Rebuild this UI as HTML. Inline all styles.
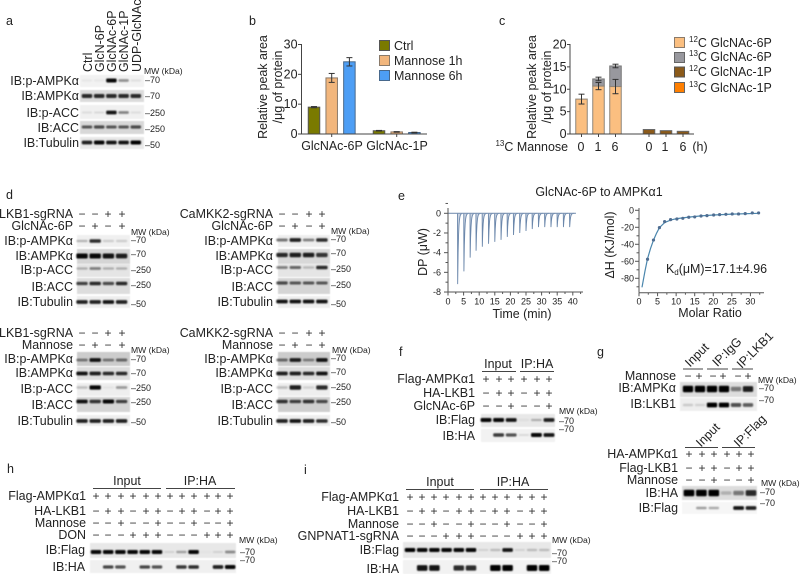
<!DOCTYPE html>
<html lang="en">
<head>
<meta charset="utf-8">
<title>GlcNAc-6P AMPK figure</title>
<style>
html,body{margin:0;padding:0;background:#fff;}
svg{display:block;}
text{font-family:"Liberation Sans",Arial,sans-serif;font-size:12.45px;fill:#222;dominant-baseline:central;}
.r{text-anchor:end;}
.m{text-anchor:middle;}
.p{font-size:12.5px;}
.mw{font-size:8.6px;}
.k{font-size:9px;}
.t{font-size:9px;}
.s{text-anchor:middle;font-size:12px;fill:#333;}
.sup{font-size:8px;}
</style>
</head>
<body>
<svg id="fig" xmlns="http://www.w3.org/2000/svg" width="800" height="574" viewBox="0 0 800 574">
<defs>
<filter id="bl" x="-30%" y="-80%" width="160%" height="260%"><feGaussianBlur stdDeviation="0.85"/></filter>
<filter id="bg" x="-5%" y="-15%" width="110%" height="130%"><feGaussianBlur stdDeviation="0.6"/></filter>
</defs>
<g id="blots"></g>

<!-- panel a -->
<text class="p" x="6" y="21">a</text>
<text transform="translate(88,72) rotate(-90)">Ctrl</text>
<text transform="translate(100,72) rotate(-90)">GlcN-6P</text>
<text transform="translate(112,72) rotate(-90)">GlcNAc-6P</text>
<text transform="translate(124,72) rotate(-90)">GlcNAc-1P</text>
<text transform="translate(137,72) rotate(-90)">UDP-GlcNAc</text>
<text class="r" x="79" y="81">IB:p-AMPKα</text>
<text class="r" x="79" y="96">IB:AMPKα</text>
<text class="r" x="79" y="113">IB:p-ACC</text>
<text class="r" x="79" y="128">IB:ACC</text>
<text class="r" x="79" y="143">IB:Tubulin</text>
<text class="mw" x="144" y="71">MW (kDa)</text>
<text class="k" x="145" y="80">–70</text>
<text class="k" x="145" y="96">–70</text>
<text class="k" x="145" y="113">–250</text>
<text class="k" x="145" y="129">–250</text>
<text class="k" x="145" y="145">–50</text>

<!-- panel b -->
<text class="p" x="249" y="21">b</text>
<text class="m" transform="translate(263,87) rotate(-90)">Relative peak area</text>
<text class="m" transform="translate(278,87) rotate(-90)">/μg of protein</text>
<text class="m" x="332" y="146">GlcNAc-6P</text>
<text class="m" x="397" y="146">GlcNAc-1P</text>
<rect x="379.5" y="40.5" width="10" height="10" fill="#7a7a00" stroke="#555"/>
<rect x="379.5" y="55.5" width="10" height="10" fill="#f2b67c" stroke="#8a7a6a"/>
<rect x="379.5" y="70.5" width="10" height="10" fill="#4d9ef5" stroke="#47688c"/>
<text x="394" y="46">Ctrl</text>
<text x="394" y="61">Mannose 1h</text>
<text x="394" y="76">Mannose 6h</text>

<!-- panel c -->
<text class="p" x="499" y="21">c</text>
<text class="m" transform="translate(532,87) rotate(-90)">Relative peak area</text>
<text class="m" transform="translate(547,87) rotate(-90)">/μg of protein</text>
<text class="r" x="568" y="147"><tspan class="sup" dy="-4">13</tspan><tspan dy="4">C Mannose</tspan></text>
<text class="m" x="581" y="147">0</text>
<text class="m" x="598" y="147">1</text>
<text class="m" x="615" y="147">6</text>
<text class="m" x="649" y="147">0</text>
<text class="m" x="665" y="147">1</text>
<text class="m" x="683" y="147">6</text>
<text class="m" x="700" y="147">(h)</text>
<rect x="674.5" y="37.5" width="10" height="10" fill="#fbbf80" stroke="#8a7a6a"/>
<rect x="674.5" y="52.5" width="10" height="10" fill="#98989e" stroke="#666"/>
<rect x="674.5" y="67" width="10" height="10" fill="#8b5a1a" stroke="#555"/>
<rect x="674.5" y="82.5" width="10" height="10" fill="#ff7f00" stroke="#666"/>
<text x="689" y="43"><tspan class="sup" dy="-4">12</tspan><tspan dy="4">C GlcNAc-6P</tspan></text>
<text x="689" y="57"><tspan class="sup" dy="-4">13</tspan><tspan dy="4">C GlcNAc-6P</tspan></text>
<text x="689" y="72"><tspan class="sup" dy="-4">12</tspan><tspan dy="4">C GlcNAc-1P</tspan></text>
<text x="689" y="88"><tspan class="sup" dy="-4">13</tspan><tspan dy="4">C GlcNAc-1P</tspan></text>

<!-- panel d -->
<text class="p" x="6" y="195">d</text>
<g>
<text class="r" x="73" y="214">LKB1-sgRNA</text>
<text class="r" x="73" y="226">GlcNAc-6P</text>
<text class="s" x="82 95 108 122" y="214">−−++</text>
<text class="s" x="82 95 108 122" y="226">−+−+</text>
<text class="r" x="73" y="241">IB:p-AMPKα</text>
<text class="r" x="73" y="256">IB:AMPKα</text>
<text class="r" x="73" y="270">IB:p-ACC</text>
<text class="r" x="73" y="287">IB:ACC</text>
<text class="r" x="73" y="302">IB:Tubulin</text>
<text class="mw" x="131" y="232">MW (kDa)</text>
<text class="k" x="131" y="240">–70</text>
<text class="k" x="131" y="254">–70</text>
<text class="k" x="131" y="270">–250</text>
<text class="k" x="131" y="285">–250</text>
<text class="k" x="131" y="304">–50</text>
</g>
<g>
<text class="r" x="273" y="214">CaMKK2-sgRNA</text>
<text class="r" x="273" y="226">GlcNAc-6P</text>
<text class="s" x="282 295 309 322" y="214">−−++</text>
<text class="s" x="282 295 309 322" y="226">−+−+</text>
<text class="r" x="273" y="241">IB:p-AMPKα</text>
<text class="r" x="273" y="256">IB:AMPKα</text>
<text class="r" x="273" y="270">IB:p-ACC</text>
<text class="r" x="273" y="287">IB:ACC</text>
<text class="r" x="273" y="302">IB:Tubulin</text>
<text class="mw" x="331" y="231">MW (kDa)</text>
<text class="k" x="331" y="239">–70</text>
<text class="k" x="331" y="253">–70</text>
<text class="k" x="331" y="269">–250</text>
<text class="k" x="331" y="285">–250</text>
<text class="k" x="331" y="304">–50</text>
</g>
<g>
<text class="r" x="73" y="333">LKB1-sgRNA</text>
<text class="r" x="73" y="345">Mannose</text>
<text class="s" x="82 95 108 122" y="333">−−++</text>
<text class="s" x="82 95 108 122" y="345">−+−+</text>
<text class="r" x="73" y="359">IB:p-AMPKα</text>
<text class="r" x="73" y="373">IB:AMPKα</text>
<text class="r" x="73" y="389">IB:p-ACC</text>
<text class="r" x="73" y="405">IB:ACC</text>
<text class="r" x="73" y="421">IB:Tubulin</text>
<text class="mw" x="131" y="350">MW (kDa)</text>
<text class="k" x="131" y="359">–70</text>
<text class="k" x="131" y="373">–70</text>
<text class="k" x="131" y="388">–250</text>
<text class="k" x="131" y="402">–250</text>
<text class="k" x="131" y="422">–50</text>
</g>
<g>
<text class="r" x="273" y="333">CaMKK2-sgRNA</text>
<text class="r" x="273" y="345">Mannose</text>
<text class="s" x="282 295 309 322" y="333">−−++</text>
<text class="s" x="282 295 309 322" y="345">−+−+</text>
<text class="r" x="273" y="359">IB:p-AMPKα</text>
<text class="r" x="273" y="373">IB:AMPKα</text>
<text class="r" x="273" y="389">IB:p-ACC</text>
<text class="r" x="273" y="405">IB:ACC</text>
<text class="r" x="273" y="421">IB:Tubulin</text>
<text class="mw" x="332" y="350">MW (kDa)</text>
<text class="k" x="331" y="358">–70</text>
<text class="k" x="331" y="372">–70</text>
<text class="k" x="331" y="387">–250</text>
<text class="k" x="331" y="402">–250</text>
<text class="k" x="331" y="422">–50</text>
</g>

<!-- panel e -->
<text class="p" x="398" y="196">e</text>
<text class="m" x="599" y="192">GlcNAc-6P to AMPKα1</text>
<text class="m" transform="translate(423,252) rotate(-90)">DP (μW)</text>
<text class="m" x="522" y="314">Time (min)</text>
<text class="m" transform="translate(610,245) rotate(-90)">ΔH (KJ/mol)</text>
<text class="m" x="710" y="313">Molar Ratio</text>
<text x="666" y="269">K<tspan class="sup" dy="3">d</tspan><tspan dy="-3">(μM)=17.1±4.96</tspan></text>

<!-- panel f -->
<text class="p" x="399" y="352">f</text>
<text class="m" x="498" y="364">Input</text>
<text class="m" x="537" y="364">IP:HA</text>
<line x1="482" x2="516" y1="371.5" y2="371.5" stroke="#444"/>
<line x1="520" x2="554" y1="371.5" y2="371.5" stroke="#444"/>
<text class="r" x="475" y="379">Flag-AMPKα1</text>
<text class="r" x="475" y="393">HA-LKB1</text>
<text class="r" x="475" y="406">GlcNAc-6P</text>
<text class="s" x="486 499 511 524 537 549" y="379">++++++</text>
<text class="s" x="486 499 511 524 537 549" y="393">−++−++</text>
<text class="s" x="486 499 511 524 537 549" y="406">−−+−−+</text>
<text class="r" x="475" y="420">IB:Flag</text>
<text class="r" x="475" y="436">IB:HA</text>
<text class="mw" x="559" y="411">MW (kDa)</text>
<text class="k" x="559" y="421">–70</text>
<text class="k" x="559" y="429">–70</text>

<!-- panel g -->
<text class="p" x="597" y="352">g</text>
<text class="m" transform="translate(697,355) rotate(-45)">Input</text>
<text class="m" transform="translate(727,352) rotate(-45)">IP:IgG</text>
<text class="m" transform="translate(755,350) rotate(-45)">IP:LKB1</text>
<line x1="683" x2="703" y1="369" y2="369" stroke="#444"/>
<line x1="707" x2="728" y1="369" y2="369" stroke="#444"/>
<line x1="732" x2="753" y1="369" y2="369" stroke="#444"/>
<text class="r" x="676" y="376">Mannose</text>
<text class="s" x="688 699 713 723 738 748" y="376">−+−+−+</text>
<text class="r" x="676" y="388">IB:AMPKα</text>
<text class="r" x="676" y="404">IB:LKB1</text>
<text class="mw" x="758" y="380">MW (kDa)</text>
<text class="k" x="759" y="388">–70</text>
<text class="k" x="759" y="400">–70</text>

<text class="m" transform="translate(708,435) rotate(-45)">Input</text>
<text class="m" transform="translate(750,431) rotate(-45)">IP:Flag</text>
<line x1="685" x2="718" y1="447.5" y2="447.5" stroke="#444"/>
<line x1="722" x2="755" y1="447.5" y2="447.5" stroke="#444"/>
<text class="r" x="678" y="454">HA-AMPKα1</text>
<text class="r" x="678" y="468">Flag-LKB1</text>
<text class="r" x="678" y="480">Mannose</text>
<text class="s" x="689 702 714 727 739 751" y="454">++++++</text>
<text class="s" x="689 702 714 727 739 751" y="468">−++−++</text>
<text class="s" x="689 702 714 727 739 751" y="480">−−+−−+</text>
<text class="r" x="678" y="493">IB:HA</text>
<text class="r" x="678" y="508">IB:Flag</text>
<text class="mw" x="761" y="483">MW (kDa)</text>
<text class="k" x="760" y="492">–70</text>
<text class="k" x="760" y="503">–70</text>

<!-- panel h -->
<text class="p" x="7" y="469">h</text>
<text class="m" x="127" y="481">Input</text>
<text class="m" x="200" y="481">IP:HA</text>
<line x1="93" x2="161" y1="488.5" y2="488.5" stroke="#444"/>
<line x1="166" x2="235" y1="488.5" y2="488.5" stroke="#444"/>
<text class="r" x="86" y="496">Flag-AMPKα1</text>
<text class="r" x="86" y="511">HA-LKB1</text>
<text class="r" x="86" y="523">Mannose</text>
<text class="r" x="86" y="535">DON</text>
<text class="s" x="96 108 121 133 146 158 170 182 194 207 218 230" y="496">++++++++++++</text>
<text class="s" x="96 108 121 133 146 158 170 182 194 207 218 230" y="511">−++−++−++−++</text>
<text class="s" x="96 108 121 133 146 158 170 182 194 207 218 230" y="523">−−+−−+−−+−−+</text>
<text class="s" x="96 108 121 133 146 158 170 182 194 207 218 230" y="535">−−−+++−−−+++</text>
<text class="r" x="85" y="550">IB:Flag</text>
<text class="r" x="85" y="567">IB:HA</text>
<text class="mw" x="239" y="540">MW (kDa)</text>
<text class="k" x="240" y="552">–70</text>
<text class="k" x="240" y="560">–70</text>

<!-- panel i -->
<text class="p" x="304" y="470">i</text>
<text class="m" x="440" y="482">Input</text>
<text class="m" x="513" y="482">IP:HA</text>
<line x1="406" x2="474" y1="489.5" y2="489.5" stroke="#444"/>
<line x1="480" x2="548" y1="489.5" y2="489.5" stroke="#444"/>
<text class="r" x="399" y="497">Flag-AMPKα1</text>
<text class="r" x="399" y="511">HA-LKB1</text>
<text class="r" x="399" y="524">Mannose</text>
<text class="r" x="399" y="536">GNPNAT1-sgRNA</text>
<text class="s" x="410 422 434 446 459 471 483 495 507 520 532 544" y="497">++++++++++++</text>
<text class="s" x="410 422 434 446 459 471 483 495 507 520 532 544" y="511">−++−++−++−++</text>
<text class="s" x="410 422 434 446 459 471 483 495 507 520 532 544" y="524">−−+−−+−−+−−+</text>
<text class="s" x="410 422 434 446 459 471 483 495 507 520 532 544" y="536">−−−+++−−−+++</text>
<text class="r" x="399" y="550">IB:Flag</text>
<text class="r" x="399" y="569">IB:HA</text>
<text class="mw" x="552" y="540">MW (kDa)</text>
<text class="k" x="552" y="553">–70</text>
<text class="k" x="552" y="561">–70</text>

<g id="charts"></g>
</svg>

<script>
// ---- chart b values ----
const bCategories = ['GlcNAc-6P', 'GlcNAc-1P'];
const bCtrl = [9.0, 1.1];
const bCtrlErr = [0.2, 0.1];
const bMannose1h = [18.8, 0.7];
const bMannose1hErr = [1.5, 0.1];
const bMannose6h = [24.2, 0.5];
const bMannose6hErr = [1.4, 0.1];
const bTicks = [0, 10, 20, 30];

// ---- chart c values ----
const c12C6P = [7.8, 10.7, 10.6];
const c12C6PErr = [1.1, 0.8, 1.6];
const c13C6P = [0, 1.6, 4.6];
const c13C6PErr = [0, 0.4, 0.4];
const c12C1P = [1.0, 0.75, 0.6];
const cTicks = [0, 5, 10, 15, 20];

// ---- chart e values ----
const dpInjectionTimes = [3.1, 5.1, 7.1, 9, 11, 13, 15, 17, 19, 21, 23, 25, 27, 29, 31, 33, 35, 37, 39];
const dpPeakDepths = [-7.2, -5.9, -4.5, -3.8, -3.4, -3.1, -2.9, -2.7, -2.4, -2.2, -2.0, -1.8, -1.6, -1.4, -1.4, -1.4, -1.4, -1.4, -1.4];
const dpYTicks = [0, -2, -4, -6, -8];
const dpXTicks = [0, 5, 10, 15, 20, 25, 30, 35, 40];
const dhRatio = [2.3, 3.9, 5.5, 6.9, 8.5, 10.2, 11.8, 13.4, 15, 16.7, 18.3, 20.1, 21.7, 23.4, 25.1, 26.8, 28.6, 30.5, 32.2];
const dhValue = [-57.6, -35, -20.4, -13.3, -11, -10.2, -9.4, -8.2, -7.8, -6.7, -6.3, -5.5, -5.1, -4.7, -4.3, -4.3, -3.9, -3.1, -3.1];
const fitRatio = [0.8, 1.6, 2.3, 3.1, 3.9, 4.7, 5.5, 6.9, 8.5, 10.2, 13.4, 16.7, 20.1, 25.1, 32.2];
const fitValue = [-90.6, -72, -57, -45, -35, -27, -20.5, -14.5, -11.5, -9.8, -8, -6.6, -5.5, -4.5, -3.5];
const dhYTicks = [0, -20, -40, -60, -80];
const dhXTicks = [0, 5, 10, 15, 20, 25, 30];

// ---- blot band intensities (0..1 per lane) ----
const aPAmpk = [0.05, 0.05, 0.95, 0.4, 0.08];
const aAmpk = [0.8, 0.8, 0.8, 0.8, 0.8];
const aPAcc = [0.08, 0.1, 0.9, 0.45, 0.08];
const aAcc = [0.6, 0.65, 0.6, 0.6, 0.65];
const aTub = [0.85, 0.95, 0.9, 0.9, 1];
const d1PAmpk = [0.25, 0.8, 0.15, 0.15];
const d1Ampk = [0.95, 0.95, 0.9, 0.85];
const d1PAcc = [0.25, 0.45, 0.25, 0.25];
const d1Acc = [0.7, 0.8, 0.65, 0.8];
const d1Tub = [0.85, 0.85, 0.9, 0.85];
const d2PAmpk = [0.5, 0.85, 0.45, 0.8];
const d2Ampk = [0.8, 0.85, 0.85, 0.75];
const d2PAcc = [0.45, 0.55, 0.2, 0.8];
const d2Acc = [0.65, 0.6, 0.6, 0.6];
const d2Tub = [0.9, 0.9, 0.9, 0.9];
const d3PAmpk = [0.45, 0.9, 0.45, 0.5];
const d3Ampk = [0.9, 0.85, 0.8, 0.8];
const d3PAcc = [0.2, 0.95, 0.05, 0.35];
const d3Acc = [0.9, 0.75, 0.95, 0.7];
const d3Tub = [0.85, 0.85, 0.85, 0.85];
const d4PAmpk = [0.5, 0.85, 0.4, 0.9];
const d4Ampk = [0.85, 0.85, 0.8, 0.9];
const d4PAcc = [0.2, 0.85, 0.12, 0.8];
const d4Acc = [0.75, 0.7, 0.75, 0.65];
const d4Tub = [0.85, 0.9, 0.85, 0.8];
const fFlag = [0.95, 0.95, 0.9, 0.05, 0.25, 0.85];
const fHa = [0, 0.75, 0.65, 0.1, 0.95, 0.9];
const gAmpk = [1, 1, 1, 1, 0.45, 0.85];
const gLkb1 = [0.15, 0.12, 1, 1, 0.65, 0.6];
const g2Ha = [1, 1, 1, 0.2, 0.45, 0.8];
const g2Flag = [0, 0.35, 0.3, 0, 0.9, 0.85];
const hFlag = [0.95, 0.95, 0.95, 0.95, 0.95, 0.95, 0.1, 0.3, 0.95, 0.03, 0.1, 0.4];
const hHa = [0, 0.7, 0.65, 0, 0.7, 0.65, 0, 0.75, 0.8, 0, 0.85, 0.95];
const iFlag = [1, 0.95, 0.95, 0.95, 0.95, 0.95, 0.1, 0.2, 0.9, 0.1, 0.2, 0.2];
const iHa = [0, 0.9, 0.9, 0, 0.8, 0.8, 0, 1, 1, 0, 1, 1];

const NS = 'http://www.w3.org/2000/svg';
const blotLayer = document.getElementById('blots');
const chartLayer = document.getElementById('charts');

function mk(tag, attrs, parent, name) {
  const el = document.createElementNS(NS, tag);
  for (const k in attrs) el.setAttribute(k, attrs[k]);
  
  
  parent.appendChild(el);
  return el;
}

function blot(name, x, y, w, h, bg, bandY, x0, step, values, thick) {
  const g = mk('g', {}, blotLayer, name);
  mk('rect', {x: x, y: y, width: w, height: h, fill: bg, filter: 'url(#bg)'}, g, name + '-background');
  const bands = mk('g', {filter: 'url(#bl)'}, g, name + '-bands');
  values.forEach(function (v, i) {
    if (v <= 0) return;
    const bw = step * 0.86;
    const bh = (1.8 + 2.2 * v) * (thick || 1);
    mk('rect', {x: x0 + i * step - bw / 2, y: bandY - bh / 2, width: bw, height: bh, rx: 1.2, fill: '#000', opacity: Math.min(1, v * 1.02)}, bands, name + '-band');
  });
}

// panel a
blot('a-blot-p-ampk', 80, 75, 64, 12, '#f2f2f2', 80.5, 87, 12.2, aPAmpk, 1);
blot('a-blot-ampk', 80, 90, 64, 12, '#dcdcdc', 96, 87, 12.2, aAmpk, 1.1);
blot('a-blot-p-acc', 80, 105, 64, 14, '#f0f0f0', 112.5, 87, 12.2, aPAcc, 1);
blot('a-blot-acc', 80, 121, 64, 13, '#d8d8d8', 127, 87, 12.2, aAcc, 1);
blot('a-blot-tubulin', 80, 137, 64, 12, '#e8e8e8', 142.5, 87, 12.2, aTub, 1);
// panel d top-left
blot('d1-blot-p-ampk', 77, 235, 53, 12, '#f0f0f0', 241, 82, 13.2, d1PAmpk, 1);
blot('d1-blot-ampk', 77, 249, 53, 15, '#d5d5d5', 256, 82, 13.2, d1Ampk, 1.3);
blot('d1-blot-p-acc', 77, 264, 53, 13, '#e5e5e5', 268.5, 82, 13.2, d1PAcc, 1);
blot('d1-blot-acc', 77, 278, 53, 16, '#dddddd', 283.5, 82, 13.2, d1Acc, 1);
blot('d1-blot-tubulin', 77, 296, 53, 12, '#eeeeee', 302, 82, 13.2, d1Tub, 1);
// panel d top-right
blot('d2-blot-p-ampk', 278, 235, 52, 12, '#eeeeee', 240, 282, 13.3, d2PAmpk, 1);
blot('d2-blot-ampk', 278, 249, 52, 15, '#d8d8d8', 255, 282, 13.3, d2Ampk, 1.2);
blot('d2-blot-p-acc', 278, 264, 52, 13, '#e5e5e5', 267.5, 282, 13.3, d2PAcc, 1);
blot('d2-blot-acc', 278, 278, 52, 16, '#d5d5d5', 283, 282, 13.3, d2Acc, 1);
blot('d2-blot-tubulin', 278, 296, 52, 12, '#eeeeee', 301.5, 282, 13.3, d2Tub, 1);
// panel d bottom-left
blot('d3-blot-p-ampk', 77, 352, 53, 14, '#cccccc', 360, 82, 13.2, d3PAmpk, 1);
blot('d3-blot-ampk', 77, 367, 53, 13, '#dddddd', 373.5, 82, 13.2, d3Ampk, 1);
blot('d3-blot-p-acc', 77, 383, 53, 13, '#eeeeee', 387.5, 82, 13.2, d3PAcc, 1.1);
blot('d3-blot-acc', 77, 397, 53, 15, '#d5d5d5', 401.5, 82, 13.2, d3Acc, 1);
blot('d3-blot-tubulin', 77, 415, 53, 11, '#eeeeee', 421, 82, 13.2, d3Tub, 1);
// panel d bottom-right
blot('d4-blot-p-ampk', 278, 352, 52, 14, '#cccccc', 360, 282, 13.3, d4PAmpk, 1);
blot('d4-blot-ampk', 278, 367, 52, 13, '#dddddd', 373.5, 282, 13.3, d4Ampk, 1);
blot('d4-blot-p-acc', 278, 383, 52, 13, '#eeeeee', 387.5, 282, 13.3, d4PAcc, 1.2);
blot('d4-blot-acc', 278, 397, 52, 15, '#cfcfcf', 401.5, 282, 13.3, d4Acc, 1);
blot('d4-blot-tubulin', 278, 415, 52, 11, '#eeeeee', 421, 282, 13.3, d4Tub, 1);
// panel f
blot('f-blot-flag', 481, 414, 74, 13, '#e8e8e8', 420, 486, 12.6, fFlag, 1);
blot('f-blot-ha', 481, 429, 74, 13, '#f2f2f2', 435, 486, 12.6, fHa, 1);
// panel g
blot('g-blot-ampk', 680, 382, 77, 15, '#dddddd', 389, 688, 12, gAmpk, 1.6);
blot('g-blot-lkb1', 680, 398, 77, 13, '#eeeeee', 405, 688, 12, gLkb1, 1.2);
blot('g2-blot-ha', 682, 486, 75, 14, '#dddddd', 493, 689, 12.4, g2Ha, 1.6);
blot('g2-blot-flag', 682, 502, 75, 12, '#f6f6f6', 508, 689, 12.4, g2Flag, 1);
// panel h
blot('h-blot-flag', 90, 543, 146, 15, '#e8e8e8', 552, 96, 12.2, hFlag, 1);
blot('h-blot-ha', 90, 560, 146, 13, '#f0f0f0', 567, 96, 12.2, hHa, 1);
// panel i
blot('i-blot-flag', 403, 542, 148, 16, '#e8e8e8', 550, 410, 12.2, iFlag, 1);
blot('i-blot-ha', 403, 560, 148, 14, '#f2f2f2', 568, 410, 12.2, iHa, 1.5);

// ---- generic drawing helpers ----
function line(parent, x1, y1, x2, y2, stroke, name, sw) {
  return mk('line', {x1: x1, y1: y1, x2: x2, y2: y2, stroke: stroke, 'stroke-width': sw || 1}, parent, name);
}
function label(parent, x, y, txt, cls, name, anchor) {
  const t = mk('text', {x: x, y: y, 'class': cls, 'text-anchor': anchor || 'middle'}, parent, name);
  t.textContent = txt;
  return t;
}
function bar(parent, cx, w, yTop, yBase, fill, edge, name) {
  mk('rect', {x: cx - w / 2, y: yTop, width: w, height: Math.max(0, yBase - yTop), fill: fill, stroke: edge, 'stroke-width': 1}, parent, name);
}
function errBar(parent, cx, yMid, yHi, yLo, name) {
  line(parent, cx, yHi, cx, yLo, '#333', name);
  line(parent, cx - 3, yHi, cx + 3, yHi, '#333', name + '-cap');
  line(parent, cx - 3, yLo, cx + 3, yLo, '#333', name + '-cap');
}

// ---- chart b ----
const bGroup = mk('g', {}, chartLayer, 'chart-b');
const bY = function (v) { return 134 - v * (89.5 / 30); };
const bX = function (g, s) { return 314 + g * 65 + s * 17.7; };
const bSeries = [
  {v: bCtrl, e: bCtrlErr, fill: '#7a7a00', edge: '#555', name: 'bar-ctrl'},
  {v: bMannose1h, e: bMannose1hErr, fill: '#f2b67c', edge: '#8a7a6a', name: 'bar-mannose-1h'},
  {v: bMannose6h, e: bMannose6hErr, fill: '#4d9ef5', edge: '#47688c', name: 'bar-mannose-6h'}
];
bSeries.forEach(function (s, si) {
  s.v.forEach(function (val, gi) {
    bar(bGroup, bX(gi, si), 11.5, bY(val), bY(0), s.fill, s.edge, s.name);
    errBar(bGroup, bX(gi, si), bY(val), bY(val + s.e[gi]), bY(val - s.e[gi]), s.name + '-error');
  });
});
line(bGroup, 301.5, 44, 301.5, 134.5, '#444', 'b-y-axis');
line(bGroup, 301, 134, 427, 134, '#444', 'b-x-axis');
bTicks.forEach(function (t) {
  line(bGroup, 298, bY(t), 301.5, bY(t), '#444', 'b-y-tick');
  label(bGroup, 297.5, bY(t), String(t), '', 'b-y-tick-label', 'end');
});
bCategories.forEach(function (c, i) {
  line(bGroup, bX(i, 1), 134, bX(i, 1), 137, '#444', 'b-x-tick');
});

// ---- chart c ----
const cGroup = mk('g', {}, chartLayer, 'chart-c');
const cY = function (v) { return 134 - v * (89.5 / 20); };
const cX = function (g, s) { return 581.5 + g * 67.5 + s * 17; };
c12C6P.forEach(function (val, i) {
  const top = val + c13C6P[i];
  if (c13C6P[i] > 0) {
    bar(cGroup, cX(0, i), 11.5, cY(top), cY(val), '#98989e', '#777', 'bar-13c-glcnac-6p');
  }
  bar(cGroup, cX(0, i), 11.5, cY(val), cY(0), '#fbbf80', '#8f8578', 'bar-12c-glcnac-6p');
  errBar(cGroup, cX(0, i), cY(val), cY(val + c12C6PErr[i]), cY(val - c12C6PErr[i]), 'error-12c-glcnac-6p');
  if (c13C6P[i] > 0) {
    errBar(cGroup, cX(0, i), cY(top), cY(top + c13C6PErr[i]), cY(top - c13C6PErr[i]), 'error-13c-glcnac-6p');
  }
});
c12C1P.forEach(function (val, i) {
  bar(cGroup, cX(1, i), 11.5, cY(val), cY(0), '#8b5a1a', '#666', 'bar-12c-glcnac-1p');
});
line(cGroup, 570, 44, 570, 134.5, '#444', 'c-y-axis');
line(cGroup, 569.5, 134, 694, 134, '#444', 'c-x-axis');
cTicks.forEach(function (t) {
  line(cGroup, 567, cY(t), 570, cY(t), '#444', 'c-y-tick');
  label(cGroup, 566.5, cY(t), String(t), '', 'c-y-tick-label', 'end');
});
[0, 1].forEach(function (g) {
  [0, 1, 2].forEach(function (s) {
    line(cGroup, cX(g, s), 134, cX(g, s), 137, '#444', 'c-x-tick');
  });
});

// ---- chart e thermogram ----
const dpGroup = mk('g', {}, chartLayer, 'chart-e-thermogram');
const dpX = function (t) { return 448 + t * 3.12; };
const dpY = function (v) { return 213.3 - v * 9.84; };
dpInjectionTimes.forEach(function (t0, i) {
  const d = dpPeakDepths[i];
  // each injection is a sharp drop with a rapid decay back toward baseline
  const seg = [];
  seg.push('M' + dpX(t0 - 0.05).toFixed(2) + ' ' + dpY(0).toFixed(2));
  seg.push('L' + dpX(t0).toFixed(2) + ' ' + dpY(d).toFixed(2));
  for (let k = 1; k <= 10; k++) {
    const dt = k * 0.14;
    seg.push('L' + dpX(t0 + dt).toFixed(2) + ' ' + dpY(d * Math.exp(-dt / 0.24)).toFixed(2));
  }
  mk('path', {d: seg.join(' '), fill: '#a8b8cf', 'fill-opacity': 0.6, stroke: '#6b87ab', 'stroke-width': 0.9}, dpGroup, 'injection-peak');
});
line(dpGroup, dpX(0), dpY(0), dpX(41), dpY(0), '#7d95b5', 'dp-baseline', 1.2);
line(dpGroup, dpX(0), 208, dpX(0), dpY(-8), '#555', 'dp-y-axis');
line(dpGroup, dpX(0), dpY(-8), 583, dpY(-8), '#555', 'dp-x-axis');
dpYTicks.forEach(function (t) {
  line(dpGroup, dpX(0) - 4, dpY(t), dpX(0), dpY(t), '#555', 'dp-y-tick');
  line(dpGroup, dpX(0) - 2.5, dpY(t + 1), dpX(0), dpY(t + 1), '#555', 'dp-y-minor-tick');
  label(dpGroup, 441, dpY(t), String(t), 't', 'dp-y-tick-label', 'end');
});
dpXTicks.forEach(function (t) {
  line(dpGroup, dpX(t), dpY(-8), dpX(t), dpY(-8) + 3.5, '#555', 'dp-x-tick');
  line(dpGroup, dpX(t + 2.5), dpY(-8), dpX(t + 2.5), dpY(-8) + 2, '#555', 'dp-x-minor-tick');
  label(dpGroup, dpX(t), 301.5, String(t), 't', 'dp-x-tick-label');
});

// ---- chart e binding isotherm ----
const dhGroup = mk('g', {}, chartLayer, 'chart-e-isotherm');
const dhX = function (r) { return 639 + r * 3.714; };
const dhY = function (v) { return 210.3 - v * 0.85; };
mk('polyline', {points: fitRatio.map(function (r, i) { return dhX(r).toFixed(1) + ',' + dhY(fitValue[i]).toFixed(1); }).join(' '), fill: 'none', stroke: '#4a86ad', 'stroke-width': 1.2}, dhGroup, 'fit-curve');
dhRatio.forEach(function (r, i) {
  mk('circle', {cx: dhX(r), cy: dhY(dhValue[i]), r: 1.6, fill: '#4f6d91'}, dhGroup, 'isotherm-point');
});
line(dhGroup, dhX(0), 208, dhX(0), 292.7, '#555', 'dh-y-axis');
line(dhGroup, dhX(0), 292.7, 764, 292.7, '#555', 'dh-x-axis');
dhYTicks.forEach(function (t) {
  line(dhGroup, dhX(0) - 4, dhY(t), dhX(0), dhY(t), '#555', 'dh-y-tick');
  line(dhGroup, dhX(0) - 2.5, dhY(t - 10), dhX(0), dhY(t - 10), '#555', 'dh-y-minor-tick');
  label(dhGroup, 634, dhY(t), String(t), 't', 'dh-y-tick-label', 'end');
});
dhXTicks.forEach(function (t) {
  line(dhGroup, dhX(t), 292.7, dhX(t), 296.2, '#555', 'dh-x-tick');
  line(dhGroup, dhX(t + 2.5), 292.7, dhX(t + 2.5), 294.7, '#555', 'dh-x-minor-tick');
  label(dhGroup, dhX(t), 301.5, String(t), 't', 'dh-x-tick-label');
});
</script>
</body>
</html>
